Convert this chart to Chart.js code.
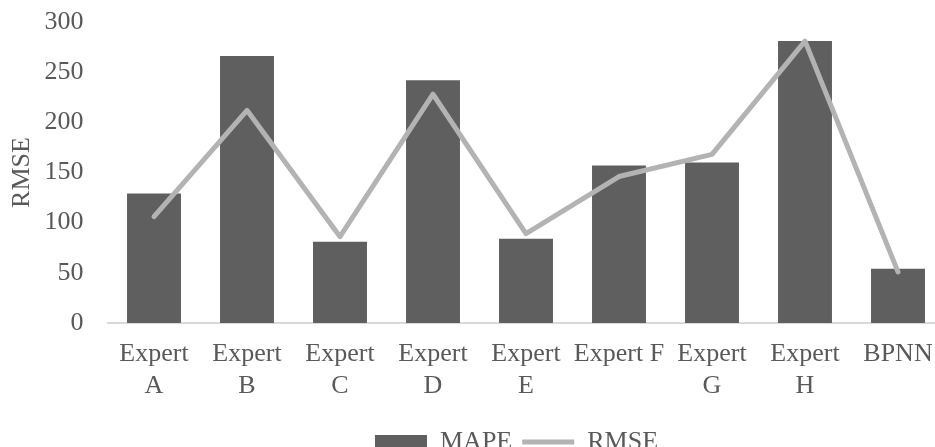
<!DOCTYPE html>
<html>
<head>
<meta charset="utf-8">
<script src="https://cdn.jsdelivr.net/npm/chart.js@4"></script>
<style>
  html, body { margin: 0; padding: 0; background: #fff; overflow: hidden; }
  #wrap { width: 935px; height: 447px; overflow: hidden; position: relative; }
  canvas { position: absolute; left: 0; top: 0; }
</style>
</head>
<body>
<div id="wrap"><canvas id="chart" width="1033" height="465"></canvas></div>
<script>
const categories = [['Expert', 'A'], ['Expert', 'B'], ['Expert', 'C'], ['Expert', 'D'], ['Expert', 'E'],
  'Expert F', ['Expert', 'G'], ['Expert', 'H'], 'BPNN'];
const mapeValues = [129, 266, 81, 242, 84, 157, 160, 281, 54];
const rmseValues = [106, 212, 86, 228, 89, 146, 168, 281, 51];
const yTicks = [0, 50, 100, 150, 200, 250, 300];

const textColor = '#595959';
const serif = { family: "'Liberation Serif', 'Times New Roman', serif", size: 26 };

const ctx = document.getElementById('chart').getContext('2d');
new Chart(ctx, {
  type: 'bar',
  data: {
    labels: categories,
    datasets: [
      {
        type: 'bar',
        label: 'MAPE',
        data: mapeValues,
        backgroundColor: '#5f5f5f',
        borderWidth: 0,
        barPercentage: 0.58,
        categoryPercentage: 1,
        pointStyle: 'rect',
        order: 1
      },
      {
        type: 'line',
        label: 'RMSE',
        data: rmseValues,
        borderColor: '#b3b3b3',
        backgroundColor: '#b3b3b3',
        borderWidth: 5,
        borderCapStyle: 'round',
        borderJoinStyle: 'round',
        pointRadius: 0,
        pointStyle: 'line',
        tension: 0,
        order: 0
      }
    ]
  },
  options: {
    responsive: false,
    animation: false,
    layout: { padding: { top: 22, left: 0, right: 0, bottom: 0 } },
    plugins: {
      tooltip: { enabled: false },
      legend: {
        position: 'bottom',
        labels: {
          usePointStyle: true,
          pointStyleWidth: 52,
          boxHeight: 14,
          padding: 10,
          color: textColor,
          font: serif,
          sort: (a, b) => a.datasetIndex - b.datasetIndex
        }
      }
    },
    scales: {
      x: {
        grid: { display: false },
        border: { color: '#d9d9d9', width: 2 },
        ticks: { color: textColor, font: serif, padding: 8, autoSkip: false, maxRotation: 0 },
        afterFit: s => { s.height = 96; }
      },
      y: {
        min: 0,
        max: 300,
        afterBuildTicks: s => { s.ticks = yTicks.map(v => ({ value: v })); },
        grid: { display: false, drawTicks: false },
        border: { display: false },
        ticks: { color: textColor, font: serif, padding: 24 },
        title: { display: true, text: 'RMSE', color: textColor, font: serif, padding: { top: 7, bottom: 0 } },
        afterFit: s => { s.width = 107.5; s.paddingTop = 0; s.paddingBottom = 0; }
      },
      yR: {
        position: 'right',
        grid: { display: false },
        border: { display: false },
        ticks: { display: false },
        afterFit: s => { s.width = 88.5; s.paddingTop = 0; s.paddingBottom = 0; }
      }
    }
  }
});
</script>
</body>
</html>
